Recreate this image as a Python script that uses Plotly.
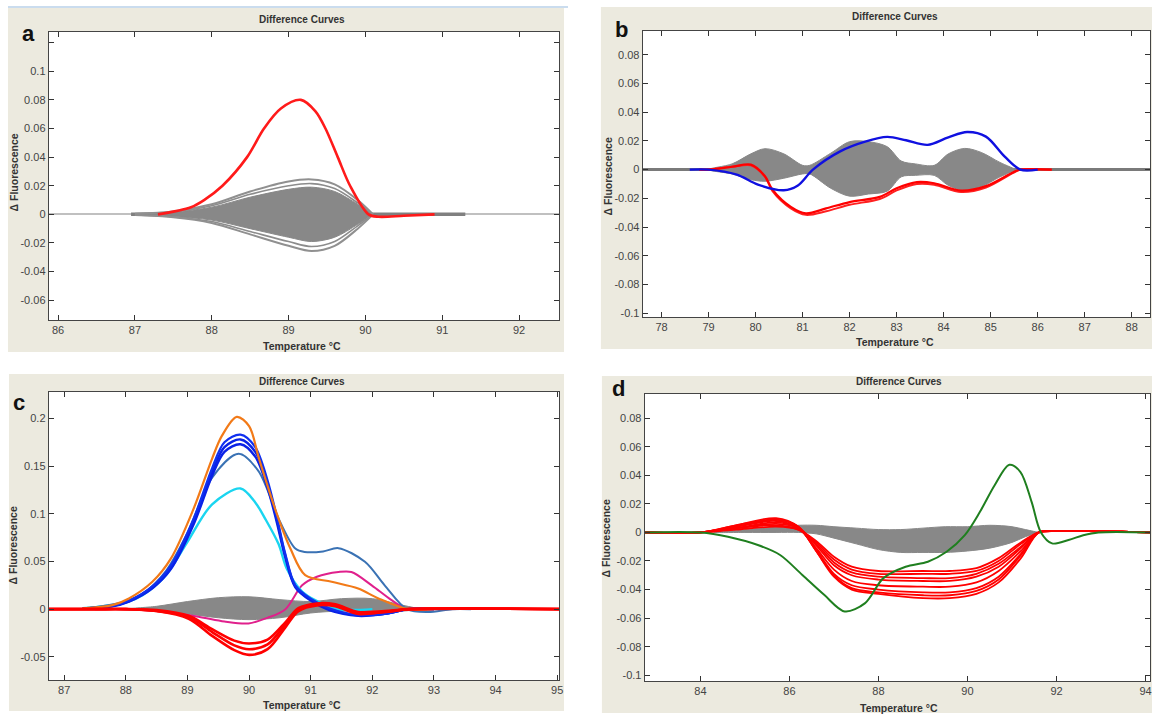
import plotly.graph_objects as go

W, H = 1156, 715

# ---------------- Panel a ----------------
a_red_T = [87.3, 87.73, 87.9, 88.14, 88.46, 88.68, 88.9, 89.16, 89.35, 89.48, 89.64, 89.8, 90.04, 90.17, 90.5, 90.9]
a_red_y = [0.0, 0.005, 0.010, 0.020, 0.040, 0.060, 0.074, 0.080, 0.072, 0.060, 0.040, 0.020, 0.0, -0.0017, -0.001, 0.0]
a_gray_T = [87.0, 87.5, 88.0, 88.5, 89.0, 89.3, 89.6, 89.9, 90.1]
a_gray_outer_up = [0.0005, 0.002, 0.007, 0.016, 0.023, 0.0244, 0.021, 0.010, 0.0]
a_gray_outer_lo = [-0.0005, -0.002, -0.006, -0.014, -0.022, -0.0256, -0.022, -0.010, 0.0]
a_gray_mid_up = [0.0004, 0.0018, 0.006, 0.014, 0.020, 0.0215, 0.018, 0.008, 0.0]
a_gray_mid_lo = [-0.0004, -0.0018, -0.005, -0.012, -0.019, -0.0225, -0.019, -0.008, 0.0]
a_gray_inner_up = [0.0003, 0.0015, 0.005, 0.012, 0.0175, 0.019, 0.016, 0.007, 0.0]
a_gray_inner_lo = [-0.0003, -0.0015, -0.004, -0.010, -0.016, -0.019, -0.016, -0.007, 0.0]
a_flat_T = [86.95, 91.3]
a_flat_y = [0.0, 0.0]
a_xticks = [86, 87, 88, 89, 90, 91, 92]
a_yticks = [-0.06, -0.04, -0.02, 0, 0.02, 0.04, 0.06, 0.08, 0.1, 0.12]
a_yticktext = ["-0.06", "-0.04", "-0.02", "0", "0.02", "0.04", "0.06", "0.08", "0.1", ""]

# ---------------- Panel b ----------------
b_blue_T = [78.6, 79.0, 79.6, 80.05, 80.6, 80.9, 81.22, 81.8, 82.33, 82.8, 83.2, 83.66, 84.1, 84.5, 84.9, 85.3, 85.63, 86.0]
b_blue_y = [0, 0, -0.0035, -0.0104, -0.0144, -0.011, 0.0, 0.0127, 0.0195, 0.0228, 0.0205, 0.0173, 0.0225, 0.0262, 0.023, 0.009, 0.0, 0]
b_red_T = [78.8, 79.0, 79.5, 79.9, 80.2, 80.36, 80.75, 81.07, 81.5, 82.0, 82.64, 83.0, 83.43, 83.8, 84.37, 84.9, 85.47, 85.63, 86.3]
b_red1_y = [0, 0, 0.002, 0.0035, -0.0046, -0.014, -0.026, -0.0305, -0.027, -0.0226, -0.019, -0.013, -0.0087, -0.0095, -0.0146, -0.0115, -0.002, 0, 0]
b_red2_y = [0, 0, 0.002, 0.003, -0.005, -0.015, -0.027, -0.0315, -0.029, -0.0245, -0.0205, -0.0145, -0.010, -0.0105, -0.0156, -0.0125, -0.0025, 0, 0]
b_gray_T = [79.0, 79.5, 79.9, 80.2, 80.6, 81.0, 81.15, 81.6, 82.0, 82.4, 82.8, 83.1, 83.4, 83.8, 84.1, 84.45, 84.8, 85.2, 85.55]
b_gray_up = [0, 0.004, 0.011, 0.0146, 0.011, 0.003, 0.003, 0.0115, 0.0195, 0.0195, 0.016, 0.006, 0.004, 0.003, 0.011, 0.0148, 0.012, 0.005, 0]
b_gray_lo = [0, -0.003, -0.007, -0.0081, -0.006, -0.003, -0.003, -0.013, -0.0185, -0.017, -0.015, -0.005, -0.004, -0.004, -0.011, -0.0146, -0.012, -0.005, 0]
b_xticks = [78, 79, 80, 81, 82, 83, 84, 85, 86, 87, 88]
b_yticks = [-0.1, -0.08, -0.06, -0.04, -0.02, 0, 0.02, 0.04, 0.06, 0.08]
b_yticktext = ["-0.1", "-0.08", "-0.06", "-0.04", "-0.02", "0", "0.02", "0.04", "0.06", "0.08"]

# ---------------- Panel c ----------------
c_orange_T = [87.3, 87.78, 88.05, 88.43, 88.73, 89.1, 89.4, 89.56, 89.8, 90.0, 90.16, 90.45, 90.67, 90.91, 91.34, 91.77, 92.1, 92.58, 93.0]
c_orange_y = [0.0008, 0.0042, 0.0112, 0.0287, 0.053, 0.1055, 0.158, 0.182, 0.2017, 0.192, 0.158, 0.100, 0.0636, 0.0357, 0.0287, 0.0217, 0.0112, 0, 0]
c_blue_T = [87.3, 87.78, 88.05, 88.43, 88.73, 89.1, 89.4, 89.6, 89.86, 90.1, 90.3, 90.45, 90.58, 90.75, 91.0, 91.3, 91.77, 92.2, 92.59, 93.0]
c_blue1_y = [0.0005, 0.0035, 0.009, 0.024, 0.046, 0.095, 0.148, 0.175, 0.183, 0.170, 0.135, 0.097, 0.060, 0.025, 0.011, 0.001, -0.006, -0.005, 0, 0]
c_blue2_y = [0.0005, 0.0033, 0.0085, 0.023, 0.044, 0.092, 0.144, 0.170, 0.178, 0.165, 0.131, 0.094, 0.058, 0.024, 0.010, 0.0, -0.0065, -0.005, 0, 0]
c_blue3_y = [0.0005, 0.003, 0.008, 0.022, 0.042, 0.089, 0.140, 0.165, 0.173, 0.160, 0.127, 0.091, 0.056, 0.023, 0.009, -0.001, -0.007, -0.005, 0, 0]
c_steel_T = [87.3, 87.5, 88.0, 88.27, 88.65, 89.0, 89.4, 89.83, 90.15, 90.5, 90.75, 90.9, 91.2, 91.45, 91.88, 92.2, 92.56, 92.9, 93.3, 93.6]
c_steel_y = [0.001, 0.002, 0.008, 0.016, 0.040, 0.080, 0.138, 0.163, 0.145, 0.092, 0.0636, 0.060, 0.0605, 0.064, 0.0497, 0.025, 0, -0.003, 0, 0]
c_cyan_T = [87.3, 87.5, 88.0, 88.27, 88.65, 89.0, 89.4, 89.86, 90.1, 90.26, 90.48, 90.61, 90.86, 91.07, 91.43, 92.0]
c_cyan_y = [0.001, 0.002, 0.007, 0.0147, 0.0357, 0.0706, 0.110, 0.1266, 0.112, 0.095, 0.068, 0.0427, 0.0185, 0.0095, 0.0, 0]
c_mag_T = [87.5, 88.0, 88.5, 89.18, 89.6, 89.99, 90.3, 90.59, 90.86, 91.1, 91.45, 91.66, 91.99, 92.3, 92.56, 93.0]
c_mag_y = [0, 0, -0.002, -0.008, -0.013, -0.015, -0.009, 0, 0.025, 0.034, 0.039, 0.039, 0.025, 0.010, 0, 0]
c_red_T = [86.75, 87.5, 88.0, 88.5, 89.02, 89.4, 89.76, 90.0, 90.3, 90.6, 90.8, 91.1, 91.4, 91.77, 92.2, 92.6, 95.03]
c_red1_y = [0, 0, 0.0, -0.002, -0.008, -0.024, -0.038, -0.042, -0.037, -0.015, 0, 0.005, 0.004, -0.004, -0.003, 0, 0]
c_red2_y = [0, 0, 0.0, -0.002, -0.010, -0.028, -0.043, -0.048, -0.042, -0.018, -0.002, 0.004, 0.003, -0.005, -0.003, 0, 0]
c_red3_y = [0, 0, 0.0, -0.001, -0.007, -0.021, -0.033, -0.036, -0.032, -0.013, 0.001, 0.006, 0.005, -0.003, -0.002, 0, 0]
c_gray_T = [88.0, 88.5, 89.0, 89.5, 90.0, 90.5, 91.0, 91.5, 92.0, 92.5, 92.8]
c_gray_up = [0, 0.003, 0.008, 0.012, 0.013, 0.010, 0.008, 0.011, 0.011, 0.004, 0]
c_gray_lo = [0, -0.002, -0.005, -0.009, -0.011, -0.009, -0.004, -0.002, -0.003, -0.002, 0]
c_xticks = [87, 88, 89, 90, 91, 92, 93, 94, 95]
c_yticks = [-0.05, 0, 0.05, 0.1, 0.15, 0.2]
c_yticktext = ["-0.05", "0", "0.05", "0.1", "0.15", "0.2"]

# ---------------- Panel d ----------------
d_green_T = [82.75, 84.0, 84.62, 85.29, 85.79, 86.29, 86.78, 87.24, 87.7, 88.11, 88.61, 89.11, 89.53, 89.94, 90.28, 90.61, 90.94, 91.19, 91.44, 91.65, 91.9, 92.27, 92.6, 92.94, 94.1]
d_green_y = [0, 0, -0.003, -0.0088, -0.0158, -0.0298, -0.0437, -0.0553, -0.0495, -0.032, -0.024, -0.0205, -0.0135, -0.0019, 0.0144, 0.033, 0.0474, 0.0423, 0.0214, 0, -0.0077, -0.0053, -0.002, 0, 0]
d_red_T = [82.75, 84.0, 84.8, 85.7, 86.2, 86.6, 87.0, 87.4, 88.0, 89.0, 89.6, 90.2, 90.7, 91.2, 91.6, 92.0, 94.1]
d_red1_y = [0, 0, 0.002, 0.004, 0.002, -0.006, -0.017, -0.024, -0.027, -0.027, -0.027, -0.025, -0.018, -0.007, 0, 0.001, 0]
d_red2_y = [0, 0, 0.003, 0.005, 0.002, -0.007, -0.019, -0.026, -0.029, -0.029, -0.029, -0.027, -0.020, -0.008, 0, 0.001, 0]
d_red3_y = [0, 0, 0.003, 0.006, 0.003, -0.008, -0.021, -0.028, -0.031, -0.032, -0.032, -0.029, -0.022, -0.010, 0, 0.001, 0]
d_red4_y = [0, 0, 0.003, 0.007, 0.003, -0.009, -0.023, -0.030, -0.033, -0.034, -0.034, -0.031, -0.024, -0.011, 0, 0.001, 0]
d_red5_y = [0, 0, 0.004, 0.008, 0.003, -0.011, -0.026, -0.034, -0.037, -0.038, -0.038, -0.035, -0.027, -0.013, 0, 0.001, 0]
d_red6_y = [0, 0, 0.004, 0.009, 0.004, -0.012, -0.029, -0.037, -0.040, -0.042, -0.042, -0.039, -0.031, -0.015, 0, 0.001, 0]
d_red7_y = [0, 0, 0.005, 0.009, 0.004, -0.013, -0.030, -0.039, -0.042, -0.044, -0.044, -0.041, -0.033, -0.016, 0, 0.001, 0]
d_red8_y = [0, 0, 0.005, 0.010, 0.004, -0.013, -0.031, -0.040, -0.043, -0.046, -0.046, -0.043, -0.035, -0.018, 0, 0.001, 0]
d_gray_T = [84.3, 85.0, 85.7, 86.2, 86.6, 87.0, 87.5, 88.0, 88.5, 89.0, 89.5, 90.0, 90.5, 91.0, 91.3, 91.6]
d_gray_up = [0, 0.002, 0.004, 0.005, 0.005, 0.004, 0.003, 0.002, 0.002, 0.003, 0.004, 0.004, 0.005, 0.004, 0.002, 0]
d_gray_lo = [0, 0, 0, 0, -0.001, -0.004, -0.008, -0.012, -0.014, -0.014, -0.014, -0.013, -0.011, -0.007, -0.003, 0]
d_xticks = [84, 86, 88, 90, 92, 94]
d_yticks = [-0.1, -0.08, -0.06, -0.04, -0.02, 0, 0.02, 0.04, 0.06, 0.08]
d_yticktext = ["-0.1", "-0.08", "-0.06", "-0.04", "-0.02", "0", "0.02", "0.04", "0.06", "0.08"]

# ---------------- Layout geometry (pixels) ----------------
FONT = "Liberation Sans"
BEIGE = "#ECEADF"
GRAY = "#888888"


def fx(p):
    return p / W


def fy(p):
    return 1 - p / H


panels = [
    dict(ax="", box=(49, 561, 32, 321), xr=[85.88, 92.52], yr=[-0.0739, 0.1275],
         beige=(8, 566, 8, 353), xt=a_xticks, yt=a_yticks, ytt=a_yticktext,
         letter="a", lpos=(29, 34), title_pos=(303, 20), xt_pos=(303, 347), yt_pos=(14, 173)),
    dict(ax="2", box=(645, 1154, 31, 318), xr=[77.6, 88.39], yr=[-0.1028, 0.0967],
         beige=(603, 1156, 7, 350), xt=b_xticks, yt=b_yticks, ytt=b_yticktext,
         letter="b", lpos=(624, 30), title_pos=(898, 17), xt_pos=(898, 343), yt_pos=(610, 177)),
    dict(ax="3", box=(49, 561, 393, 682), xr=[86.75, 95.03], yr=[-0.0744, 0.2279],
         beige=(9, 566, 375, 713), xt=c_xticks, yt=c_yticks, ytt=c_yticktext,
         letter="c", lpos=(19, 404), title_pos=(303, 383), xt_pos=(303, 707), yt_pos=(14, 547)),
    dict(ax="4", box=(647, 1154, 395, 683), xr=[82.75, 94.1], yr=[-0.1041, 0.097],
         beige=(604, 1156, 377, 715), xt=d_xticks, yt=d_yticks, ytt=d_yticktext,
         letter="d", lpos=(621, 390), title_pos=(902, 383), xt_pos=(902, 710), yt_pos=(609, 540)),
]

fig = go.Figure()


def add_line(ax, xs, ys, color, width=2.0, smooth=True):
    fig.add_trace(go.Scatter(
        x=xs, y=ys, mode="lines", xaxis="x" + ax, yaxis="y" + ax,
        line=dict(color=color, width=width, shape="spline" if smooth else "linear", smoothing=0.9),
        hoverinfo="skip", showlegend=False))


def add_band(ax, xs, up, lo, color):
    fig.add_trace(go.Scatter(
        x=list(xs) + list(xs)[::-1], y=list(up) + list(lo)[::-1],
        mode="lines", fill="toself", fillcolor=color, xaxis="x" + ax, yaxis="y" + ax,
        line=dict(color=color, width=1, shape="spline", smoothing=0.9),
        hoverinfo="skip", showlegend=False))


# Panel a
add_line("", a_flat_T, a_flat_y, "#808080", 3.5, smooth=False)
add_band("", a_gray_T, a_gray_inner_up, a_gray_inner_lo, GRAY)
add_line("", a_gray_T, a_gray_mid_up, "#8c8c8c", 1.6)
add_line("", a_gray_T, a_gray_mid_lo, "#8c8c8c", 1.6)
add_line("", a_gray_T, a_gray_outer_up, "#909090", 2.0)
add_line("", a_gray_T, a_gray_outer_lo, "#909090", 2.0)
add_line("", a_red_T, a_red_y, "#ff1a1a", 2.6)

# Panel b
add_band("2", b_gray_T, b_gray_up, b_gray_lo, GRAY)
add_line("2", b_red_T, b_red2_y, "#ff2020", 2.0)
add_line("2", b_red_T, b_red1_y, "#ff0000", 2.2)
add_line("2", b_blue_T, b_blue_y, "#1010e0", 2.4)

# Panel c
add_band("3", c_gray_T, c_gray_up, c_gray_lo, GRAY)
add_line("3", c_mag_T, c_mag_y, "#e0208c", 2.0)
add_line("3", c_cyan_T, c_cyan_y, "#1ad5f0", 2.4)
add_line("3", c_steel_T, c_steel_y, "#3a72b4", 2.0)
add_line("3", c_blue_T, c_blue3_y, "#0a22e6", 2.4)
add_line("3", c_blue_T, c_blue2_y, "#0a22e6", 2.4)
add_line("3", c_blue_T, c_blue1_y, "#1030f0", 2.2)
add_line("3", c_orange_T, c_orange_y, "#f27a18", 2.2)
add_line("3", c_red_T, c_red2_y, "#ff0000", 2.6)
add_line("3", c_red_T, c_red1_y, "#ff0000", 2.6)
add_line("3", c_red_T, c_red3_y, "#ff0000", 2.6)

# Panel d
add_band("4", d_gray_T, d_gray_up, d_gray_lo, GRAY)
for ys in [d_red1_y, d_red2_y, d_red3_y, d_red4_y, d_red5_y, d_red6_y, d_red7_y, d_red8_y]:
    add_line("4", d_red_T, ys, "#ff0000", 1.8)
add_line("4", d_green_T, d_green_y, "#1f7f1f", 2.0)

shapes = []
annotations = []
layout_axes = {}
for p in panels:
    l, r, t, b = p["box"]
    bl, br, bt, bb = p["beige"]
    shapes.append(dict(type="rect", xref="paper", yref="paper", x0=fx(bl), x1=fx(br),
                       y0=fy(bb), y1=fy(bt), fillcolor=BEIGE, line=dict(width=0), layer="below"))
    shapes.append(dict(type="rect", xref="paper", yref="paper", x0=fx(l), x1=fx(r),
                       y0=fy(b), y1=fy(t), fillcolor="white", line=dict(width=0), layer="below"))
    xa = "xaxis" + p["ax"]
    ya = "yaxis" + p["ax"]
    layout_axes[xa] = dict(domain=[fx(l), fx(r)], range=p["xr"], anchor="y" + p["ax"],
                           tickvals=p["xt"], ticks="inside", ticklen=5, tickcolor="#333",
                           showline=True, linecolor="#444", linewidth=1.2, mirror="ticks",
                           showgrid=False, zeroline=False,
                           tickfont=dict(family=FONT, size=11, color="#444"))
    layout_axes[ya] = dict(domain=[fy(b), fy(t)], range=p["yr"], anchor="x" + p["ax"],
                           tickvals=p["yt"], ticktext=p["ytt"], ticks="inside", ticklen=5,
                           tickcolor="#333", showline=True, linecolor="#444", linewidth=1.2,
                           mirror="ticks", showgrid=False, zeroline=False,
                           tickfont=dict(family=FONT, size=11, color="#444"))
    common = dict(xref="paper", yref="paper", showarrow=False, xanchor="center", yanchor="middle")
    annotations.append(dict(text="<b>" + p["letter"] + "</b>", x=fx(p["lpos"][0]), y=fy(p["lpos"][1]),
                            font=dict(family="Liberation Sans", size=22, color="#111"), **common))
    annotations.append(dict(text="<b>Difference Curves</b>", x=fx(p["title_pos"][0]), y=fy(p["title_pos"][1]),
                            font=dict(family=FONT, size=10, color="#333"), **common))
    annotations.append(dict(text="<b>Temperature °C</b>", x=fx(p["xt_pos"][0]), y=fy(p["xt_pos"][1]),
                            font=dict(family=FONT, size=10.5, color="#333"), **common))
    annotations.append(dict(text="<b>Δ Fluorescence</b>", x=fx(p["yt_pos"][0]), y=fy(p["yt_pos"][1]),
                            textangle=-90, font=dict(family=FONT, size=10.5, color="#333"), **common))

# zero lines for a and b
layout_axes["yaxis"]["zeroline"] = True
layout_axes["yaxis"]["zerolinecolor"] = "#c0c0c0"
layout_axes["yaxis"]["zerolinewidth"] = 1.5
layout_axes["yaxis2"]["zeroline"] = True
layout_axes["yaxis2"]["zerolinecolor"] = "#7a7a7a"
layout_axes["yaxis2"]["zerolinewidth"] = 3

# thin blue line at top of panel a frame
shapes.append(dict(type="line", xref="paper", yref="paper", x0=fx(8), x1=fx(570), y0=fy(7), y1=fy(7),
                   line=dict(color="#b8d0e8", width=1.5), layer="below"))

fig.update_layout(
    width=W, height=H, margin=dict(l=0, r=0, t=0, b=0),
    paper_bgcolor="white", plot_bgcolor="white",
    shapes=shapes, annotations=annotations, showlegend=False,
    **layout_axes,
)

fig.write_html("out.html", config={"displayModeBar": False},
               post_script="document.body.style.margin='0px';document.body.style.padding='0px';")
